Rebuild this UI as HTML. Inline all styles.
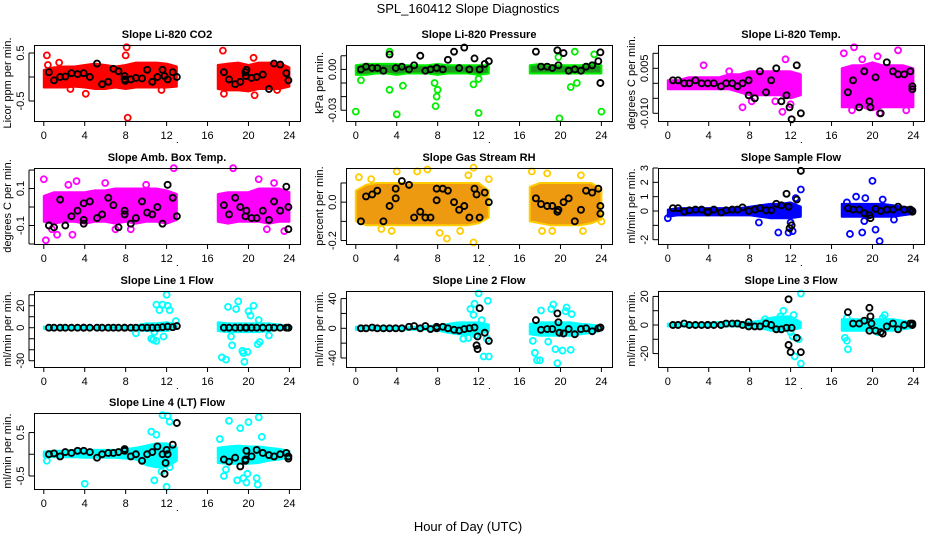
<!DOCTYPE html>
<html><head><meta charset="utf-8"><style>
html,body{margin:0;padding:0;background:#fff;}
svg{display:block;font-family:"Liberation Sans",sans-serif;}
</style></head><body>
<svg id="chart" width="936" height="540" viewBox="0 0 936 540" xmlns="http://www.w3.org/2000/svg">
<rect x="0" y="0" width="936" height="540" fill="#fff"/>
<text x="468" y="13" font-size="13" text-anchor="middle">SPL_160412  Slope Diagnostics</text>
<text x="468" y="531" font-size="13" text-anchor="middle">Hour of Day (UTC)</text>
</svg>
<script>
const HOURS=[0,1,2,3,4,5,6,7,8,9,10,11,12,13,17,18,19,20,21,22,23,24];
const BLACK_X=[0.5,1,1.6,2.1,2.7,3.3,3.9,4.5,5.2,5.7,6.3,6.8,7.3,7.9,8.5,9,9.6,10.1,10.6,11.1,11.6,12.1,12.6,13.0,17.6,18.1,18.7,19.2,19.7,20.3,20.8,21.4,22,22.5,23.1,23.7,23.9];
const X_TICKS=[0,4,8,12,16,20,24];

const co2Lo=[-0.22,-0.22,-0.22,-0.2,-0.22,-0.25,-0.25,-0.22,-0.25,-0.22,-0.22,-0.22,-0.22,-0.2,-0.25,-0.28,-0.28,-0.3,-0.25,-0.25,-0.25,-0.2];
const co2Hi=[0.15,0.2,0.22,0.22,0.25,0.28,0.25,0.22,0.25,0.3,0.3,0.3,0.28,0.22,0.25,0.28,0.3,0.25,0.3,0.3,0.3,0.2];
const co2Out=[[0.3,0.45],[0.4,0.25],[1.5,0.3],[2.6,-0.25],[4.1,-0.35],[8.1,0.62],[8.2,-0.85],[8,0.45],[11.5,-0.27],[17.5,0.55],[17.6,-0.35],[20.6,-0.38],[20.5,0.4],[22.8,-0.27]];
const co2Blk=[0.1,-0.07,0,0.01,0.08,0.06,0.08,0.0,0.28,-0.15,-0.1,0.17,0.12,-0.05,-0.05,-0.02,-0.03,0.15,-0.1,0.0,0.15,-0.05,0.1,0,0.1,-0.05,-0.15,-0.1,0.1,-0.02,0.0,0.05,-0.25,0.28,0.26,0.08,-0.07];
const co2Extra=[[7.9,0.02],[7.95,-0.08],[19.8,0.15],[19.75,0.02],[11.8,0.02]];

const presLo=[-0.004,-0.004,-0.003,-0.003,-0.004,-0.003,-0.003,-0.003,-0.004,-0.003,-0.003,-0.003,-0.004,-0.003,-0.003,-0.003,-0.003,-0.003,-0.003,-0.003,-0.003,-0.003];
const presHi=[0.003,0.004,0.004,0.004,0.004,0.003,0.003,0.003,0.004,0.003,0.003,0.003,0.003,0.003,0.003,0.004,0.003,0.003,0.003,0.003,0.004,0.003];
const presOut=[[0,-0.031],[0.5,-0.008],[3.3,-0.015],[3.3,0.013],[4,-0.033],[4.6,-0.012],[7.7,-0.01],[7.9,-0.02],[7.8,-0.027],[8,-0.015],[12,-0.032],[11.5,-0.011],[12,-0.007],[19.9,-0.036],[21.4,0.013],[23.3,0.011],[21,-0.013],[21.6,-0.01],[24,-0.031],[19.8,0.009]];
const presBlk=[0.0,0.002,0.001,0.001,-0.001,0.011,0.001,0.002,0.0,0.003,0.01,-0.001,0.0,0.001,0.0,0.007,0.013,0.001,0.016,0.0,0.008,0.0,0.004,0.006,0.013,0.002,0.002,0.001,0.014,0.012,-0.001,0.0,-0.001,0.002,0.003,0.006,-0.01];
const presExtra=[[23.9,0.0125],[7.9,0.001],[19.8,0.003]];

const tempLo=[-0.002,-0.002,-0.002,-0.002,-0.002,-0.002,-0.002,-0.003,-0.004,-0.004,-0.004,-0.004,-0.005,-0.004,-0.008,-0.008,-0.008,-0.009,-0.008,-0.008,-0.008,-0.008];
const tempHi=[0.001,0.001,0.002,0.002,0.002,0.002,0.003,0.003,0.004,0.004,0.004,0.004,0.004,0.003,0.005,0.006,0.006,0.007,0.006,0.006,0.006,0.005];
const tempOut=[[3.5,0.006],[7.3,-0.008],[11.5,0.008],[12,-0.007],[12.7,-0.003],[17.2,0.01],[18.2,0.012],[19,0.008],[20.5,0.009],[22.5,0.011],[18,-0.009],[20.7,-0.01],[23.3,-0.009],[19.5,-0.007],[10.5,-0.006],[8.2,-0.006],[6,0.004],[11.2,-0.0095]];
const tempBlk=[0.001,0.001,0.0,0.0,0.001,0.0,0.0,0.0,-0.001,0.0,0.0,-0.001,0.0,0.001,-0.005,0.004,-0.003,0.001,0.005,-0.006,-0.004,-0.012,0.006,-0.01,-0.003,0.001,-0.008,0.004,-0.006,0.002,-0.01,0.007,0.004,0.003,0.003,0.004,-0.002];
const tempExtra=[[11.9,-0.008],[19.8,-0.008],[23.9,-0.001],[7.9,-0.004]];

const ambLo=[-0.08,-0.09,-0.08,-0.08,-0.09,-0.08,-0.08,-0.09,-0.08,-0.09,-0.08,-0.08,-0.09,-0.07,-0.08,-0.09,-0.08,-0.08,-0.08,-0.09,-0.08,-0.08];
const ambHi=[0.06,0.08,0.08,0.08,0.08,0.09,0.09,0.1,0.1,0.1,0.1,0.1,0.09,0.07,0.07,0.08,0.08,0.08,0.1,0.1,0.1,0.08];
const ambOut=[[0,0.15],[0.2,-0.18],[1.3,-0.15],[3.2,0.14],[2.8,-0.15],[6,0.13],[12.7,0.21],[18.5,0.21],[21,0.15],[22.5,0.13],[23.5,-0.13],[21.8,-0.12],[0.8,-0.12],[7,-0.12],[8.5,-0.12],[10,0.12],[2.4,0.12]];
const ambBlk=[-0.1,-0.11,0.04,-0.1,-0.05,-0.02,0.02,0.03,-0.06,-0.04,0.05,0.01,-0.11,-0.04,-0.09,-0.06,0.03,-0.03,-0.04,0.0,-0.09,0.12,0.05,-0.05,0.01,-0.04,0.05,-0.0,-0.05,-0.06,-0.06,-0.02,-0.07,0.03,-0.02,0.11,-0.12];
const ambExtra=[[3.9,-0.07],[3.9,-0.09],[7.9,-0.02],[19.8,-0.02],[23.9,0.0]];

const rhLo=[-0.1,-0.12,-0.12,-0.12,-0.12,-0.12,-0.12,-0.12,-0.12,-0.12,-0.12,-0.12,-0.11,-0.08,-0.1,-0.11,-0.12,-0.12,-0.12,-0.12,-0.11,-0.09];
const rhHi=[0.06,0.09,0.1,0.1,0.1,0.1,0.1,0.1,0.1,0.1,0.1,0.1,0.1,0.06,0.08,0.1,0.1,0.1,0.1,0.1,0.1,0.07];
const rhOut=[[0.3,0.13],[1.5,0.12],[2.5,-0.14],[3.5,-0.15],[4,0.16],[7,0.17],[6,0.16],[8.2,-0.16],[8.9,-0.19],[10.2,-0.15],[11,0.14],[11.5,-0.21],[11.5,0.18],[13,0.12],[17.2,0.16],[19.2,-0.15],[18.2,-0.15],[22,0.14],[22.2,-0.15],[24,-0.1],[18.7,0.15]];
const rhBlk=[-0.1,0.03,0.04,0.06,-0.1,-0.02,0.02,0.11,0.09,-0.08,-0.05,-0.08,-0.08,0.01,0.07,0.06,0.0,-0.04,-0.02,-0.08,0.07,-0.08,0.05,0.0,0.02,-0.01,-0.02,-0.02,-0.05,0.0,0.02,-0.1,-0.04,0.06,0.05,0.07,-0.02];
const rhExtra=[[3.9,0.07],[7.9,0.07],[11.8,0.04],[19.8,-0.04],[23.9,-0.06]];

const sfLo=[-0.4,-0.3,-0.3,-0.3,-0.3,-0.3,-0.3,-0.3,-0.3,-0.4,-0.5,-0.5,-0.5,-0.4,-0.4,-0.4,-0.4,-0.4,-0.4,-0.4,-0.3,-0.2];
const sfHi=[0.1,0.2,0.2,0.2,0.2,0.2,0.2,0.2,0.3,0.4,0.5,0.5,0.6,0.3,0.5,0.5,0.5,0.5,0.5,0.4,0.3,0.2];
const sfOut=[[0,-0.5],[8.9,-0.8],[10.8,-1.5],[11.8,-1.5],[12.2,-1.4],[12,-0.8],[13,1.5],[12.5,0.9],[17.8,-1.6],[19,-1.5],[17.5,0.6],[18.4,1.0],[19.3,0.9],[20,2.1],[20.7,-2.1],[20.3,-1.3],[22.1,-0.6],[21,0.8],[19.2,-0.7]];
const sfBlk=[0.2,0.2,-0.05,0.05,0.1,0.1,-0.05,0.1,-0.1,0.05,0.1,0.1,0.25,0.0,0.1,0.2,0.05,0.05,0.5,0.4,1.2,-1.0,0.8,2.8,0.2,0.1,0.1,-0.15,-0.3,0.15,0.0,0.1,0.1,0.3,0.1,0.1,-0.05];
const sfExtra=[[11.8,0.3],[11.9,-1.2],[3.9,-0.1],[19.8,-0.5],[23.9,0.0]];

const l1Lo=[-1,-1,-1,-1,-1.5,-1,-1,-1,-1.5,-2,-3,-3,-3,-1,-3,-4,-4,-4,-4,-3,-2,-1];
const l1Hi=[1,1,1,1,1.5,1,1,1,1.5,2,4,4,5,3,5,4,4,4,4,4,3,1.5];
const l1Out=[[10.7,-11],[11,-12],[10.5,-10],[11,21],[11.3,16],[11.6,21],[12,30],[12.1,20],[12.3,16],[11.7,-8],[10.8,-4],[12.9,6],[17.4,-27],[17.8,-29],[18,19],[18.3,-8],[18.4,-16],[18.8,17],[19,24],[19.4,-21],[19.5,-23],[19.6,-31],[19.9,-22],[20,15],[20.2,11],[20.5,20],[20.9,-15],[21.1,-13],[21,7],[22,-7],[9,-5]];
const l1Blk=[0,0,0,0,0,0,0,0,0,0,0,0,0,0,0,0,0,0,0,0,0.5,1,0.5,1.5,0,0,0,0,0,0,0,0,0,0,0,0,0];
const l1Extra=[[3.9,0],[7.9,0],[19.8,0],[23.9,0]];

const l2Lo=[-2,-2,-2,-2,-2,-2,-2,-2,-3,-6,-8,-8,-8,-4,-8,-10,-10,-10,-10,-8,-6,-3];
const l2Hi=[2,2,2,2,2,2,2,3,4,6,8,8,8,5,6,8,8,8,8,6,5,3];
const l2Out=[[11,-13],[10.5,-14],[11.2,26],[11.5,18],[11.6,33],[12,47],[12.3,11],[12.8,-14],[12.5,-38],[13,-38],[12.9,37],[11.7,-9],[17.5,-33],[17.7,-43],[18,-43],[17.3,-17],[18.1,24],[19.1,26],[19.3,32],[19.5,-28],[19.7,-47],[20.2,-30],[20.6,28],[21,-29],[21.1,19],[18.8,-18],[20.5,23]];
const l2Blk=[0,0,1,0,0,0,0,0,2,3,0,3,-1,2,2,0,-2,-3,-1,0,1,27,-6,-17,11,-2,-1,-1,20,-7,-1,-8,-1,0,-4,0,1];
const l2Extra=[[11.9,-11],[11.8,-23],[11.9,-28],[19.8,8],[19.9,-6],[7.9,0],[23.9,1]];

const l3Lo=[-1,-1,-1,-1,-1,-1,-1,-1,-2,-2,-4,-4,-4,-2,-4,-4,-4,-4,-4,-4,-3,-2];
const l3Hi=[1,1,1,1,1.5,2,2,2,2,3,5,6,6,2,4,4,4,4,4,4,3,2];
const l3Out=[[11.3,10],[11,6],[12.3,7],[12.2,-8],[12,-5],[12.4,-22],[13,22],[13,-27],[12.8,-10],[17.3,-9],[17.5,-11],[17.6,-17],[17.5,5],[21.2,7],[21,5],[20.5,-5],[9.5,4]];
const l3Blk=[0,0,1,0,0,0,0,0,0,1,1,1,0,2,-1,-1,1,0,-3,-3,-2,-2,-9,-19,9,1,1,3,12,-4,-5,-1,1,-3,0,1,0];
const l3Extra=[[11.8,18],[11.8,-14],[12,-19],[19.8,6],[19.9,1],[21,-6],[19.7,-4],[3.9,0],[7.9,-1],[23.9,1]];

const l4Lo=[-0.06,-0.07,-0.07,-0.07,-0.08,-0.08,-0.08,-0.08,-0.1,-0.12,-0.25,-0.3,-0.3,-0.15,-0.2,-0.22,-0.22,-0.22,-0.2,-0.15,-0.12,-0.08];
const l4Hi=[0.06,0.08,0.08,0.1,0.1,0.1,0.1,0.1,0.12,0.15,0.2,0.25,0.25,0.15,0.15,0.18,0.2,0.18,0.18,0.15,0.12,0.08];
const l4Out=[[0.3,-0.15],[4,-0.68],[10.5,0.52],[11,0.45],[10.8,-0.6],[11.6,0.9],[12.1,0.88],[12.3,0.75],[12,-0.75],[11.5,-0.4],[12.3,-0.3],[17.2,0.35],[17.6,-0.5],[18.1,0.77],[18.9,-0.6],[19.2,0.6],[19.5,-0.55],[19.8,-0.65],[19.9,-0.45],[20,0.74],[20.8,-0.55],[21,0.85],[20.9,-0.7],[21.3,0.4],[17.8,-0.35]];
const l4Blk=[0.0,0.02,-0.05,0.05,0.03,0.08,0.08,0.05,-0.08,0.0,0.03,0.03,0.05,0.12,-0.05,0.0,-0.15,0.0,0.05,0.18,0.0,0.0,0.22,0.72,-0.12,-0.17,-0.08,-0.28,-0.12,-0.05,0.1,0.03,-0.02,-0.05,0.0,0.03,-0.1];
const l4Extra=[[11.9,-0.2],[11.8,-0.45],[12,0.1],[7.9,0.08],[19.8,0.08],[19.7,-0.15],[23.9,-0.05]];

const PANELS=[
 {name:'co2',title:'Slope Li-820 CO2',ylab:'Licor ppm per min.',col:0,row:0,color:'#ff0000',band:'#ff0000',yr:[-0.917,0.667],ticks:[-0.5,0,0.5],tl:['-0.5','','0.5'],lo:co2Lo,hi:co2Hi,out:co2Out,blk:co2Blk,ext:co2Extra},
 {name:'pressure',title:'Slope Li-820 Pressure',ylab:'kPa per min.',col:1,row:0,color:'#00ee00',band:'#1f9a1f',yr:[-0.0379,0.0179],ticks:[-0.03,-0.02,-0.01,0,0.01],tl:['-0.03','','','0.00',''],lo:presLo,hi:presHi,out:presOut,blk:presBlk,ext:presExtra},
 {name:'li820-temp',title:'Slope Li-820 Temp.',ylab:'degrees C per min.',col:2,row:0,color:'#ff00ff',band:'#ff00ff',yr:[-0.01257,0.01277],ticks:[-0.01,-0.005,0,0.005,0.01],tl:['-0.010','','','0.005',''],lo:tempLo,hi:tempHi,out:tempOut,blk:tempBlk,ext:tempExtra},
 {name:'amb-box-temp',title:'Slope Amb. Box Temp.',ylab:'degrees C per min.',col:0,row:1,color:'#ff00ff',band:'#ff00ff',yr:[-0.2,0.211],ticks:[-0.2,-0.1,0,0.1,0.2],tl:['','-0.1','','0.1',''],lo:ambLo,hi:ambHi,out:ambOut,blk:ambBlk,ext:ambExtra},
 {name:'gas-stream-rh',title:'Slope Gas Stream RH',ylab:'percent per min.',col:1,row:1,color:'#ffcc00',band:'#ee9a10',yr:[-0.218,0.178],ticks:[-0.2,-0.1,0,0.1],tl:['-0.2','','0.0',''],lo:rhLo,hi:rhHi,out:rhOut,blk:rhBlk,ext:rhExtra},
 {name:'sample-flow',title:'Slope Sample Flow',ylab:'ml/min per min.',col:2,row:1,color:'#0000ff',band:'#0000ff',yr:[-2.3,3.0],ticks:[-2,-1,0,1,2,3],tl:['-2','','0','1','2','3'],lo:sfLo,hi:sfHi,out:sfOut,blk:sfBlk,ext:sfExtra},
 {name:'line1-flow',title:'Slope Line 1 Flow',ylab:'ml/min per min.',col:0,row:2,color:'#00ffff',band:'#00ffff',yr:[-35.7,33.4],ticks:[-30,-20,-10,0,10,20,30],tl:['-30','','','0','','20',''],lo:l1Lo,hi:l1Hi,out:l1Out,blk:l1Blk,ext:l1Extra},
 {name:'line2-flow',title:'Slope Line 2 Flow',ylab:'ml/min per min.',col:1,row:2,color:'#00ffff',band:'#00ffff',yr:[-52.1,50.2],ticks:[-40,-20,0,20,40],tl:['-40','','0','','40'],lo:l2Lo,hi:l2Hi,out:l2Out,blk:l2Blk,ext:l2Extra},
 {name:'line3-flow',title:'Slope Line 3 Flow',ylab:'ml/min per min.',col:2,row:2,color:'#00ffff',band:'#00ffff',yr:[-29.4,23.8],ticks:[-20,-10,0,10,20],tl:['-20','','0','','20'],lo:l3Lo,hi:l3Hi,out:l3Out,blk:l3Blk,ext:l3Extra},
 {name:'line4-flow',title:'Slope Line 4 (LT) Flow',ylab:'ml/min per min.',col:0,row:3,color:'#00ffff',band:'#00ffff',yr:[-0.8,0.95],ticks:[-0.5,0,0.5],tl:['-0.5','','0.5'],lo:l4Lo,hi:l4Hi,out:l4Out,blk:l4Blk,ext:l4Extra}
];

const NS='http://www.w3.org/2000/svg';
const svg=document.getElementById('chart');
const LEFTS=[34,346,658], TOPS=[45,168,291,413], W=266, H=76;
function mk(tag,attrs,parent){const e=document.createElementNS(NS,tag);for(const k in attrs)e.setAttribute(k,attrs[k]);(parent||svg).appendChild(e);return e;}

PANELS.forEach(p=>{
  const L=LEFTS[p.col], T=TOPS[p.row];
  const sx=h=>L+9.8+h*(245.6/24);
  const sy=v=>T+H-(v-p.yr[0])/(p.yr[1]-p.yr[0])*H;
  const g=mk('g',{});
  
  
  const cp=mk('clipPath',{id:'cp-'+p.name},g);
  mk('rect',{x:L,y:T,width:W,height:H},cp);
  [[0,14],[14,22]].forEach(([a,b],si)=>{
    let pts=[];
    for(let i=a;i<b;i++)pts.push(sx(HOURS[i])+','+sy(p.hi[i]));
    for(let i=b-1;i>=a;i--)pts.push(sx(HOURS[i])+','+sy(p.lo[i]));
    const poly=mk('polygon',{points:pts.join(' '),fill:p.band,stroke:p.color,'stroke-width':2,'stroke-linejoin':'round','clip-path':'url(#cp-'+p.name+')'},g);
    
    
  });
  p.out.forEach(([h,v])=>{
    const c=mk('circle',{cx:sx(h),cy:sy(v),r:3,fill:'none',stroke:p.color,'stroke-width':1.8},g);
    
    
  });
  p.blk.forEach((v,i)=>{
    const c=mk('circle',{cx:sx(BLACK_X[i]),cy:sy(v),r:3,fill:'none',stroke:'#000','stroke-width':1.9},g);
    
    
  });
  p.ext.forEach(([h,v])=>{
    const c=mk('circle',{cx:sx(h),cy:sy(v),r:3,fill:'none',stroke:'#000','stroke-width':1.9},g);
    
    
  });
  const box=mk('rect',{x:L+0.5,y:T+0.5,width:W,height:H,fill:'none',stroke:'#000','stroke-width':1},g);
  
  
  X_TICKS.forEach(t=>{
    mk('line',{x1:sx(t),x2:sx(t),y1:T+H,y2:T+H+5,stroke:'#000'},g);
    const tx=mk('text',{x:sx(t),y:T+H+18,'font-size':11,'text-anchor':'middle'},g);
    tx.textContent=t;
    
    
  });
  mk('line',{x1:L-5,x2:L-5,y1:sy(p.ticks[0]),y2:sy(p.ticks[p.ticks.length-1]),stroke:'#000'},g);
  p.ticks.forEach((t,i)=>{
    mk('line',{x1:L-5,x2:L,y1:sy(t),y2:sy(t),stroke:'#000'},g);
    if(p.tl[i]){
      const x=L-10,y=sy(t);
      const tx=mk('text',{x:x,y:y,'font-size':11,'text-anchor':'middle',transform:'rotate(-90 '+x+' '+y+')'},g);
      tx.textContent=p.tl[i];
      
      
    }
  });
  const yx=L-23, yy=T+H/2;
  const yl=mk('text',{x:yx,y:yy,'font-size':11,'text-anchor':'middle',transform:'rotate(-90 '+yx+' '+yy+')'},g);
  yl.textContent=p.ylab;
  
  
  const tt=mk('text',{x:L+W/2,y:T-7,'font-size':11,'font-weight':'bold','text-anchor':'middle'},g);
  tt.textContent=p.title;
  
  
  mk('rect',{x:sx(13),y:T+H+21,width:1,height:1,fill:'#000'},g);
});
</script>
</body></html>
